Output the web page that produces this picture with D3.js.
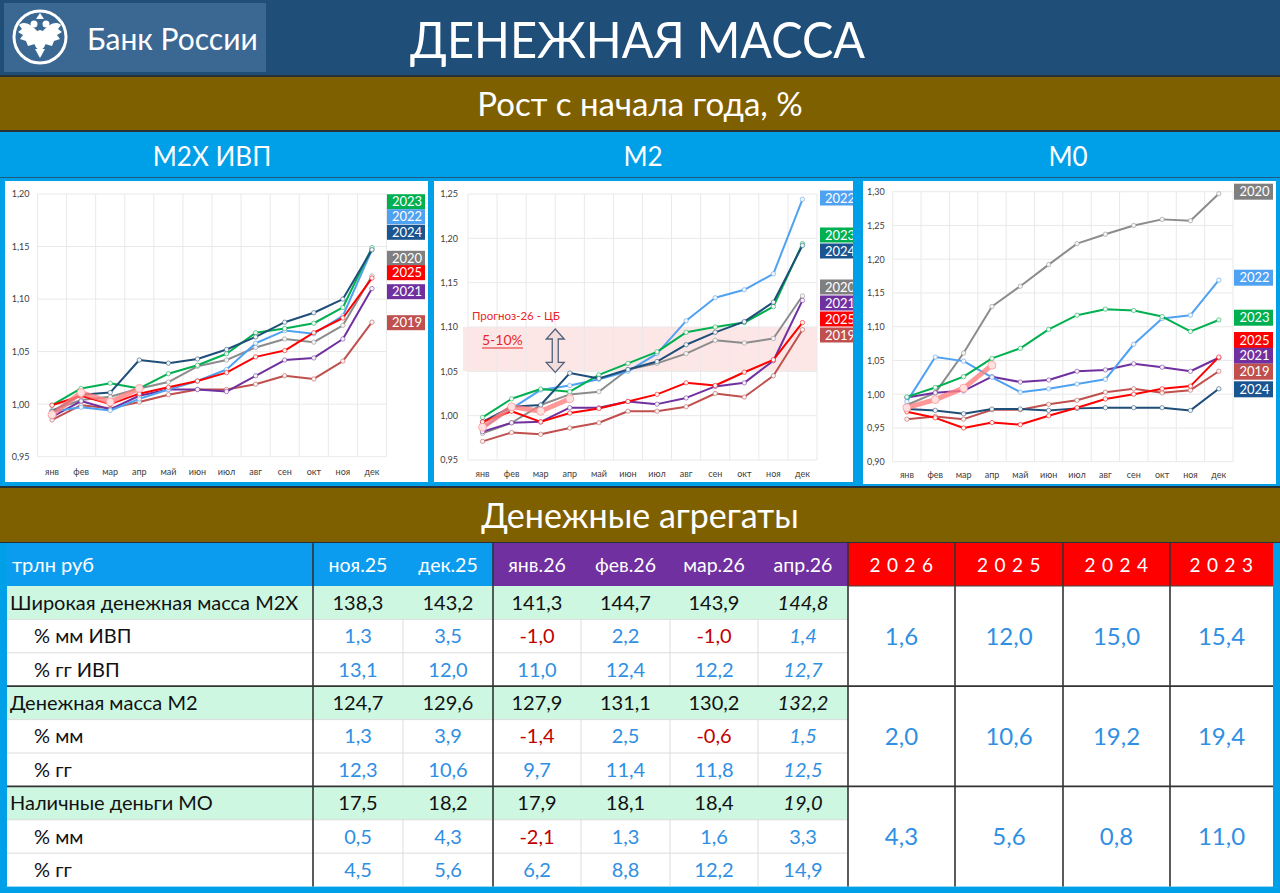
<!DOCTYPE html>
<html><head><meta charset="utf-8">
<script src="https://cdn.jsdelivr.net/npm/d3@7"></script>
<style>
body{margin:0;background:#00a0e9;}
svg{display:block;font-family:Lato,"Open Sans",sans-serif;}
</style></head><body>
<svg id="c" width="1280" height="893"></svg>
<script>
// ---------- DATA ----------
const months = ["янв","фев","мар","апр","май","июн","июл","авг","сен","окт","ноя","дек"];
const years = ["2019","2020","2021","2022","2023","2024","2025","2026"];

// M2X ИВП
const m2x2019 = [0.985,0.999,0.996,1.002,1.009,1.014,1.014,1.019,1.027,1.024,1.041,1.078];
const m2x2020 = [0.994,1.004,1.007,1.015,1.021,1.036,1.042,1.054,1.062,1.059,1.075,1.122];
const m2x2021 = [0.988,1.003,0.995,1.008,1.014,1.014,1.012,1.027,1.042,1.044,1.062,1.110];
const m2x2022 = [0.993,0.997,0.994,1.005,1.014,1.022,1.033,1.058,1.070,1.067,1.084,1.147];
const m2x2023 = [0.999,1.015,1.020,1.015,1.029,1.037,1.048,1.068,1.072,1.077,1.092,1.149];
const m2x2024 = [0.993,1.009,1.011,1.042,1.039,1.043,1.052,1.064,1.078,1.087,1.100,1.147];
const m2x2025 = [0.999,1.008,1.000,1.010,1.016,1.022,1.030,1.045,1.051,1.068,1.082,1.120];
const m2x2026 = [0.990,1.011,1.002,1.015];

// M2
const m2y2019 = [0.971,0.981,0.979,0.986,0.992,1.005,1.005,1.010,1.025,1.021,1.045,1.097];
const m2y2020 = [0.980,0.992,1.012,1.024,1.027,1.052,1.059,1.070,1.085,1.082,1.087,1.135];
const m2y2021 = [0.982,0.992,0.993,1.009,1.009,1.016,1.013,1.020,1.033,1.037,1.062,1.130];
const m2y2022 = [0.986,1.008,1.029,1.034,1.041,1.050,1.070,1.107,1.133,1.142,1.160,1.244];
const m2y2023 = [0.998,1.019,1.030,1.027,1.046,1.059,1.072,1.094,1.100,1.105,1.123,1.194];
const m2y2024 = [0.993,1.010,1.012,1.048,1.042,1.052,1.061,1.080,1.094,1.106,1.128,1.192];
const m2y2025 = [0.993,1.005,0.993,1.003,1.008,1.016,1.024,1.037,1.034,1.049,1.063,1.105];
const m2y2026 = [0.987,1.010,1.005,1.019];

// M0
const m0y2019 = [0.963,0.967,0.963,0.977,0.977,0.985,0.991,1.003,1.008,1.002,1.006,1.034];
const m0y2020 = [0.984,1.002,1.061,1.130,1.160,1.192,1.223,1.237,1.250,1.259,1.257,1.297];
const m0y2021 = [0.995,1.002,1.005,1.026,1.018,1.021,1.034,1.036,1.045,1.040,1.034,1.054];
const m0y2022 = [0.989,1.055,1.049,1.025,1.003,1.008,1.015,1.022,1.074,1.112,1.117,1.169];
const m0y2023 = [0.996,1.010,1.026,1.053,1.068,1.096,1.117,1.126,1.124,1.115,1.093,1.110];
const m0y2024 = [0.978,0.976,0.971,0.978,0.978,0.976,0.979,0.980,0.980,0.980,0.976,1.008];
const m0y2025 = [0.974,0.965,0.950,0.958,0.955,0.968,0.980,0.993,1.000,1.008,1.012,1.055];
const m0y2026 = [0.980,0.992,1.009,1.043];

// table
const tableCols = ["ноя.25","дек.25","янв.26","фев.26","мар.26","апр.26"];
const yearCols = ["2026","2025","2024","2023"];
const rowLabels = ["Широкая денежная масса M2X","% мм ИВП","% гг ИВП","Денежная масса M2","% мм","% гг","Наличные деньги МО","% мм","% гг"];
const rowM2X  = [138.3,143.2,141.3,144.7,143.9,144.8];
const rowM2Xmm = [1.3,3.5,-1.0,2.2,-1.0,1.4];
const rowM2Xgg = [13.1,12.0,11.0,12.4,12.2,12.7];
const rowM2   = [124.7,129.6,127.9,131.1,130.2,132.2];
const rowM2mm = [1.3,3.9,-1.4,2.5,-0.6,1.5];
const rowM2gg = [12.3,10.6,9.7,11.4,11.8,12.5];
const rowM0   = [17.5,18.2,17.9,18.1,18.4,19.0];
const rowM0mm = [0.5,4.3,-2.1,1.3,1.6,3.3];
const rowM0gg = [4.5,5.6,6.2,8.8,12.2,14.9];
const yearM2X = [1.6,12.0,15.0,15.4];
const yearM2  = [2.0,10.6,19.2,19.4];
const yearM0  = [4.3,5.6,0.8,11.0];

// ---------- STYLES ----------
const colors = {"2019":"#c0504d","2020":"#8c8c8c","2021":"#7030a0","2022":"#4fa1f2","2023":"#00b050","2024":"#1f4e79","2025":"#ff0000","2026":"#ff8080"};
const legendFill = {"2019":"#c0504d","2020":"#7f7f7f","2021":"#7030a0","2022":"#4fa1f2","2023":"#00b050","2024":"#1a5590","2025":"#ff0000"};

const svg = d3.select("#c");
const fmt = d3.format(".1f");
const comma = v => fmt(v).replace(".", ",").replace("\u2212", "-");
const fmt2 = v => d3.format(".2f")(v).replace(".", ",");

// ---------- HEADER ----------
svg.append("rect").attr("x",0).attr("y",0).attr("width",1280).attr("height",76).attr("fill","#1f4e79");
svg.append("rect").attr("x",0).attr("y",75).attr("width",1280).attr("height",2).attr("fill","#263238");
svg.append("rect").attr("x",0).attr("y",77).attr("width",1280).attr("height",53).attr("fill","#7f6000");
svg.append("rect").attr("x",0).attr("y",130).attr("width",1280).attr("height",2).attr("fill","#263238");
svg.append("rect").attr("x",0).attr("y",132).attr("width",1280).attr("height",355).attr("fill","#00a0e9");
svg.append("rect").attr("x",0).attr("y",177).attr("width",1280).attr("height",1).attr("fill","#1d5a80");
svg.append("rect").attr("x",0).attr("y",486).attr("width",1280).attr("height",2).attr("fill","#263238");
svg.append("rect").attr("x",0).attr("y",488).attr("width",1280).attr("height",54).attr("fill","#7f6000");
svg.append("rect").attr("x",0).attr("y",542).attr("width",1280).attr("height",1).attr("fill","#263238");

// logo
const logo = svg.append("g");
logo.append("rect").attr("x",4).attr("y",3).attr("width",262).attr("height",69).attr("fill","#3a6893");
logo.append("circle").attr("cx",40).attr("cy",37).attr("r",26).attr("fill","none").attr("stroke","#fff").attr("stroke-width",3);
const eag = logo.append("g").attr("fill","#fff");
eag.append("path").attr("d","M38,32 C30,23 24,21 19,25 L22,29 L18,32 L23,35 L20,39 L26,41 L28,46 L35,44 Z");
eag.append("path").attr("d","M42,32 C50,23 56,21 61,25 L58,29 L62,32 L57,35 L60,39 L54,41 L52,46 L45,44 Z");
eag.append("ellipse").attr("cx",40).attr("cy",40).attr("rx",6).attr("ry",10);
eag.append("circle").attr("cx",34).attr("cy",24).attr("r",3.5);
eag.append("circle").attr("cx",46).attr("cy",24).attr("r",3.5);
eag.append("path").attr("d","M36,19 L40,13 L44,19 Z");
eag.append("path").attr("d","M35,49 L40,58 L45,49 Z");
logo.append("text").attr("x",87).attr("y",50).attr("font-size",30).attr("fill","#fff").text("Банк России");

svg.append("text").attr("x",410).attr("y",58).attr("font-size",51).attr("fill","#fff")
  .attr("textLength",455).attr("lengthAdjust","spacingAndGlyphs").text("ДЕНЕЖНАЯ МАССА");
svg.append("text").attr("x",640).attr("y",116).attr("text-anchor","middle").attr("font-size",33).attr("fill","#fff").text("Рост с начала года, %");
[["M2X ИВП",212],["M2",643],["M0",1068]].forEach(([t,x]) =>
  svg.append("text").attr("x",x).attr("y",166).attr("text-anchor","middle").attr("font-size",26).attr("fill","#fff").text(t));
svg.append("text").attr("x",640).attr("y",528).attr("text-anchor","middle").attr("font-size",34).attr("fill","#fff").text("Денежные агрегаты");

// ---------- CHARTS ----------
function drawChart(cfg){
  const id = "clip" + cfg.name;
  svg.append("clipPath").attr("id",id).append("rect")
    .attr("x",cfg.px).attr("y",cfg.py).attr("width",cfg.pw).attr("height",cfg.ph);
  const g = svg.append("g").attr("clip-path",`url(#${id})`);
  g.append("rect").attr("x",cfg.px).attr("y",cfg.py).attr("width",cfg.pw).attr("height",cfg.ph).attr("fill","#fff");

  const x = d3.scaleBand().domain(months).range([cfg.left,cfg.right]);
  const y = d3.scaleLinear().domain([cfg.ymin,cfg.ymax]).range([cfg.bottom,cfg.top]);
  const ticks = d3.range(0, Math.round((cfg.ymax-cfg.ymin)/0.05)+1).map(i => +(cfg.ymin + i*0.05).toFixed(2));

  if (cfg.band){
    g.append("rect").attr("x",cfg.left-5).attr("y",y(cfg.band[1]))
      .attr("width",cfg.right-cfg.left+5).attr("height",y(cfg.band[0])-y(cfg.band[1]))
      .attr("fill","#fde6e6");
  }
  // grid
  g.append("g").selectAll("line").data(ticks).join("line")
    .attr("x1",cfg.left).attr("x2",cfg.right).attr("y1",d=>y(d)).attr("y2",d=>y(d))
    .attr("stroke","#e9e9e9").attr("stroke-width",1);
  g.append("g").selectAll("line").data(months.concat(["end"])).join("line")
    .attr("x1",d=> d==="end"?cfg.right:x(d)).attr("x2",d=> d==="end"?cfg.right:x(d))
    .attr("y1",cfg.top).attr("y2",cfg.bottom)
    .attr("stroke","#e9e9e9").attr("stroke-width",1);

  // axes
  const ya = g.append("g").attr("transform",`translate(${cfg.left},0)`)
    .call(d3.axisLeft(y).tickValues(ticks).tickFormat(fmt2).tickSize(0).tickPadding(cfg.ypad));
  ya.select(".domain").remove();
  ya.selectAll("text").attr("font-size",9).attr("fill","#404040").attr("font-family","Lato, sans-serif");
  const xa = g.append("g").attr("transform",`translate(0,${cfg.bottom})`)
    .call(d3.axisBottom(x).tickSize(0).tickPadding(cfg.xpad));
  xa.select(".domain").remove();
  xa.selectAll("text").attr("font-size",9).attr("fill","#404040").attr("font-family","Lato, sans-serif");

  // annotation
  if (cfg.band){
    g.append("text").attr("x",cfg.left+4).attr("y",y(cfg.band[1])-7).attr("font-size",11.5).attr("fill","#e8262a").text("Прогноз-26 - ЦБ");
    g.append("text").attr("x",cfg.left+14).attr("y",y(cfg.band[1])+18).attr("font-size",14).attr("fill","#e8262a").text("5-10%");
    g.append("line").attr("x1",cfg.left+14).attr("x2",cfg.left+55).attr("y1",y(cfg.band[1])+21).attr("y2",y(cfg.band[1])+21)
      .attr("stroke","#e8262a").attr("stroke-width",1.2);
    const cx = x("апр"), top = y(cfg.band[1])+2, bot = y(cfg.band[0])+1;
    g.append("path").attr("d",`M${cx},${top} L${cx+9},${top+10} L${cx+3},${top+10} L${cx+3},${bot-10} L${cx+9},${bot-10} L${cx},${bot} L${cx-9},${bot-10} L${cx-3},${bot-10} L${cx-3},${top+10} L${cx-9},${top+10} Z`)
      .attr("fill","#f3dcdc").attr("stroke","#50607a").attr("stroke-width",1.3);
  }

  // lines
  const line = d3.line().x((d,i)=>x(months[i])+x.bandwidth()/2).y(d=>y(d));
  years.forEach(yr => {
    const vals = cfg.series[yr];
    const is26 = yr === "2026";
    g.append("path").datum(vals).attr("d",line).attr("fill","none")
      .attr("stroke",colors[yr]).attr("stroke-width",is26?5:2)
      .attr("stroke-opacity",is26?0.8:1).attr("stroke-linejoin","round").attr("stroke-linecap","round");
    g.append("g").selectAll("circle").data(vals).join("circle")
      .attr("cx",(d,i)=>x(months[i])+x.bandwidth()/2).attr("cy",d=>y(d))
      .attr("r",is26?4:2.2)
      .attr("fill",is26?"#ffe0e0":"#f4f4f4")
      .attr("stroke",colors[yr]).attr("stroke-opacity",0.6).attr("stroke-width",is26?1:0.9);
  });

  // legend
  cfg.legend.forEach(([yr,cy]) => {
    g.append("rect").attr("x",cfg.lx).attr("y",cy-cfg.lh/2).attr("width",cfg.lw).attr("height",cfg.lh).attr("fill",legendFill[yr]);
    g.append("text").attr("x",cfg.lx+cfg.lw/2+1).attr("y",cy+4.6).attr("text-anchor","middle")
      .attr("font-size",13).attr("fill","#fff").text(yr);
  });
}

drawChart({name:"m2x", px:5, py:181, pw:423, ph:301, left:37.5, right:386.5, top:194, bottom:456.7,
  ymin:0.95, ymax:1.20, ypad:8, xpad:11.5,
  series:{"2019":m2x2019,"2020":m2x2020,"2021":m2x2021,"2022":m2x2022,"2023":m2x2023,"2024":m2x2024,"2025":m2x2025,"2026":m2x2026},
  lx:387, lw:38, lh:15,
  legend:[["2023",201.7],["2022",216.7],["2024",232.3],["2020",258.3],["2025",272.7],["2021",291.7],["2019",322.7]]});

drawChart({name:"m2", px:434, py:181, pw:419, ph:301, left:468, right:817, top:194, bottom:460,
  ymin:0.95, ymax:1.25, ypad:10, xpad:10.5, band:[1.05,1.10],
  series:{"2019":m2y2019,"2020":m2y2020,"2021":m2y2021,"2022":m2y2022,"2023":m2y2023,"2024":m2y2024,"2025":m2y2025,"2026":m2y2026},
  lx:820, lw:38, lh:15,
  legend:[["2022",198],["2023",235],["2024",251],["2020",287],["2021",303],["2025",319],["2019",335]]});

drawChart({name:"m0", px:863, py:181, pw:413, ph:303, left:892.7, right:1233, top:191.7, bottom:461.7,
  ymin:0.90, ymax:1.30, ypad:8, xpad:10,
  series:{"2019":m0y2019,"2020":m0y2020,"2021":m0y2021,"2022":m0y2022,"2023":m0y2023,"2024":m0y2024,"2025":m0y2025,"2026":m0y2026},
  lx:1234, lw:39, lh:16,
  legend:[["2020",191.7],["2022",277.7],["2023",317.7],["2025",340],["2021",355.7],["2019",371.7],["2024",389.3]]});

// ---------- TABLE ----------
const rows = [rowM2X,rowM2Xmm,rowM2Xgg,rowM2,rowM2mm,rowM2gg,rowM0,rowM0mm,rowM0gg];
const yearRows = [yearM2X,yearM2,yearM0];
const colEdges = [7,313,403,493,581,670,758,848,955,1063,1170,1273];
const headTop = 543, rowTop = 586, rowH = 33.4;
const rowY = d3.scaleLinear().domain([0,9]).range([rowTop,rowTop+9*rowH]);
const tb = svg.append("g");
tb.append("rect").attr("x",7).attr("y",headTop).attr("width",1266).attr("height",rowY(9)-headTop).attr("fill","#fff");
tb.append("rect").attr("x",7).attr("y",headTop).attr("width",493-7).attr("height",rowTop-headTop).attr("fill","#0b9cf0");
tb.append("rect").attr("x",493).attr("y",headTop).attr("width",848-493).attr("height",rowTop-headTop).attr("fill","#7030a0");
tb.append("rect").attr("x",848).attr("y",headTop).attr("width",1273-848).attr("height",rowTop-headTop).attr("fill","#ff0000");
[0,3,6].forEach(r => tb.append("rect").attr("x",7).attr("y",rowY(r)).attr("width",848-7).attr("height",rowH).attr("fill","#cdf7e1"));
[1,2,4,5,7,8].forEach(r => {
  tb.append("line").attr("x1",7).attr("x2",848).attr("y1",rowY(r)).attr("y2",rowY(r)).attr("stroke","#dcdcdc");
  [403,581,670,758].forEach(cx => tb.append("line").attr("x1",cx).attr("x2",cx).attr("y1",rowY(r)).attr("y2",rowY(r+1)).attr("stroke","#dcdcdc"));
});
[313,493,848,955,1063,1170].forEach(cx => tb.append("line").attr("x1",cx).attr("x2",cx).attr("y1",headTop).attr("y2",rowY(9)).attr("stroke","#333").attr("stroke-width",1.6));
[3,6].forEach(r => tb.append("line").attr("x1",7).attr("x2",1273).attr("y1",rowY(r)).attr("y2",rowY(r)).attr("stroke","#333").attr("stroke-width",1.8));
tb.append("line").attr("x1",848).attr("x2",1273).attr("y1",rowTop).attr("y2",rowTop).attr("stroke","#444").attr("stroke-width",1);

const hc = (i) => (colEdges[i]+colEdges[i+1])/2;
tb.append("text").attr("x",12).attr("y",572).attr("font-size",20).attr("fill","#fff").text("трлн руб");
tableCols.forEach((t,i) => tb.append("text").attr("x",hc(i+1)).attr("y",572).attr("text-anchor","middle").attr("font-size",19.5).attr("fill","#fff").text(t));
yearCols.forEach((t,i) => tb.append("text").attr("x",hc(i+7)+3).attr("y",572).attr("text-anchor","middle").attr("font-size",19).attr("letter-spacing",6.5).attr("fill","#fff").text(t));

rows.forEach((vals,r) => {
  const main = r % 3 === 0;
  tb.append("text").attr("x",main?10:34).attr("y",rowY(r)+rowH/2+7).attr("font-size",20).attr("fill","#111").text(rowLabels[r]);
  vals.forEach((v,i) => {
    const italic = i === 5 && r <= 6;
    tb.append("text").attr("x",hc(i+1)).attr("y",rowY(r)+rowH/2+7).attr("text-anchor","middle")
      .attr("font-size",20).attr("font-style",italic?"italic":"normal")
      .attr("fill", main ? "#111" : (v < 0 ? "#c00000" : "#2f8fe3"))
      .text(comma(v));
  });
});
yearRows.forEach((vals,g) => {
  vals.forEach((v,i) => tb.append("text").attr("x",hc(i+7)).attr("y",rowY(g*3+1.5)+8.5).attr("text-anchor","middle")
    .attr("font-size",24).attr("fill","#2f8fe3").text(comma(v)));
});
</script>
</body></html>
